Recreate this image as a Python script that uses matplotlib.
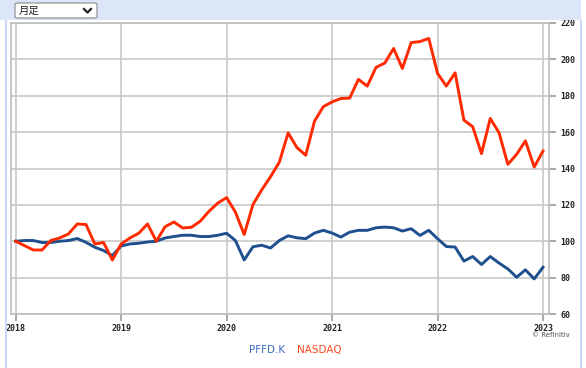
import matplotlib.pyplot as plt
from matplotlib.patches import Rectangle, FancyBboxPatch
import numpy as np

# monthly index values, Jan 2018 .. Jan 2023 (rebased to 100)
nasdaq = [100, 97.6, 95.2, 95.2, 100.4, 101.8, 104, 109.5, 109.2, 98.5,
          99.3, 89.7, 98.5, 101.8, 104.4, 109.5, 100, 108, 110.6, 107.3,
          107.7, 111, 116.5, 121, 124, 116, 103.7, 120.2, 128.3, 135.5,
          143.5, 159.6, 151.5, 147.3, 166, 174, 176.6, 178.5, 178.7, 189,
          185.3, 195.6, 198, 206, 195, 209.2, 209.8, 211.5, 192.3, 185.3,
          192.6, 166.6, 163, 148.2, 167.5, 159.6, 142.3, 147.8, 155.2, 140.8,
          149.6]
pffd = [100, 100.4, 100.4, 99.3, 99.3, 100, 100.4, 101.5, 99.4, 96.7,
        94.9, 92.1, 97.4, 98.5, 98.9, 99.6, 100, 101.8, 102.6, 103.3,
        103.3, 102.6, 102.6, 103.3, 104.4, 100.4, 89.7, 97, 97.8, 96.3,
        100.4, 103, 101.9, 101.4, 104.5, 106, 104.5, 102.3, 105, 106,
        106, 107.4, 107.8, 107.4, 105.6, 106.9, 103.2, 106, 101.4, 97.1,
        96.8, 89.1, 91.6, 87.2, 91.6, 88, 84.8, 80.2, 84.3, 79.3,
        85.7]
years = [2018, 2019, 2020, 2021, 2022, 2023]
yticks = [60, 80, 100, 120, 140, 160, 180, 200, 220]

t = 2018 + np.arange(len(nasdaq)) / 12.0

W, H = 586, 368
fig = plt.figure(figsize=(W / 100, H / 100), dpi=100)
fig.patch.set_facecolor("white")

# light blue frame and header
band = "#dbe6f8"
fig.patches.append(Rectangle((0, 1 - 20 / H), 581 / W, 20 / H, transform=fig.transFigure,
                             facecolor=band, edgecolor="none", zorder=0))
fig.patches.append(Rectangle((4.5 / W, 0), 2 / W, 1 - 20 / H, transform=fig.transFigure,
                             facecolor="#c8d8f4", edgecolor="none", zorder=0))
fig.patches.append(Rectangle((579.5 / W, 0), 2 / W, 1 - 20 / H, transform=fig.transFigure,
                             facecolor="#c8d8f4", edgecolor="none", zorder=0))
# dropdown box
fig.patches.append(FancyBboxPatch((15 / W, 1 - 18 / H), 82 / W, 15 / H,
                                  boxstyle="round,pad=0,rounding_size=0.004",
                                  transform=fig.transFigure, facecolor="white",
                                  edgecolor="#8a8a8a", linewidth=0.8, zorder=1))
fig.text(19 / W, 1 - 10.5 / H, "月足", fontsize=7.5, va="center", ha="left",
         family=["Noto Sans CJK JP", "DejaVu Sans"], color="#222222")
fig.add_artist(plt.Line2D([84 / W, 87.5 / W, 91 / W], [1 - 9 / H, 1 - 12.5 / H, 1 - 9 / H],
                          transform=fig.transFigure, color="#222222", linewidth=1.6))

ax = fig.add_axes([11 / W, 1 - 314 / H, 538 / W, 291 / H])
ax.plot(t, pffd, color="#1e4f8f", linewidth=2.1, solid_joinstyle="round", zorder=3)
ax.plot(t, nasdaq, color="#ff2a00", linewidth=2.1, solid_joinstyle="round", zorder=4)

ax.set_xlim(2018 - 4.7 / 105.5, 2023 + 6 / 105.5)
ax.set_ylim(60, 220)
ax.set_xticks(years)
ax.set_xticklabels([str(y) for y in years])
ax.set_yticks(yticks)
ax.yaxis.tick_right()
ax.grid(True, color="#c8c8c8", linewidth=1.2)
for s in ax.spines.values():
    s.set_color("#bdbdbd")
    s.set_linewidth(1.2)
ax.tick_params(axis="both", colors="#9a9a9a", length=5, width=1.2, direction="out",
               labelsize=6, labelcolor="#222222")
for lab in ax.get_xticklabels() + ax.get_yticklabels():
    lab.set_family("DejaVu Sans Mono")
    lab.set_fontweight("bold")
ax.tick_params(axis="x", pad=2)
ax.tick_params(axis="y", pad=3)

fig.text(570 / W, 1 - 335 / H, "© Refinitiv", fontsize=5, ha="right", va="center",
         color="#555555")
fig.text(285 / W, 1 - 350 / H, "PFFD.K", fontsize=7.5, ha="right", va="center",
         color="#3a6cc2")
fig.text(297 / W, 1 - 350 / H, "NASDAQ", fontsize=7.5, ha="left", va="center",
         color="#ff4a1c")

fig.savefig("out.png", dpi=100)
